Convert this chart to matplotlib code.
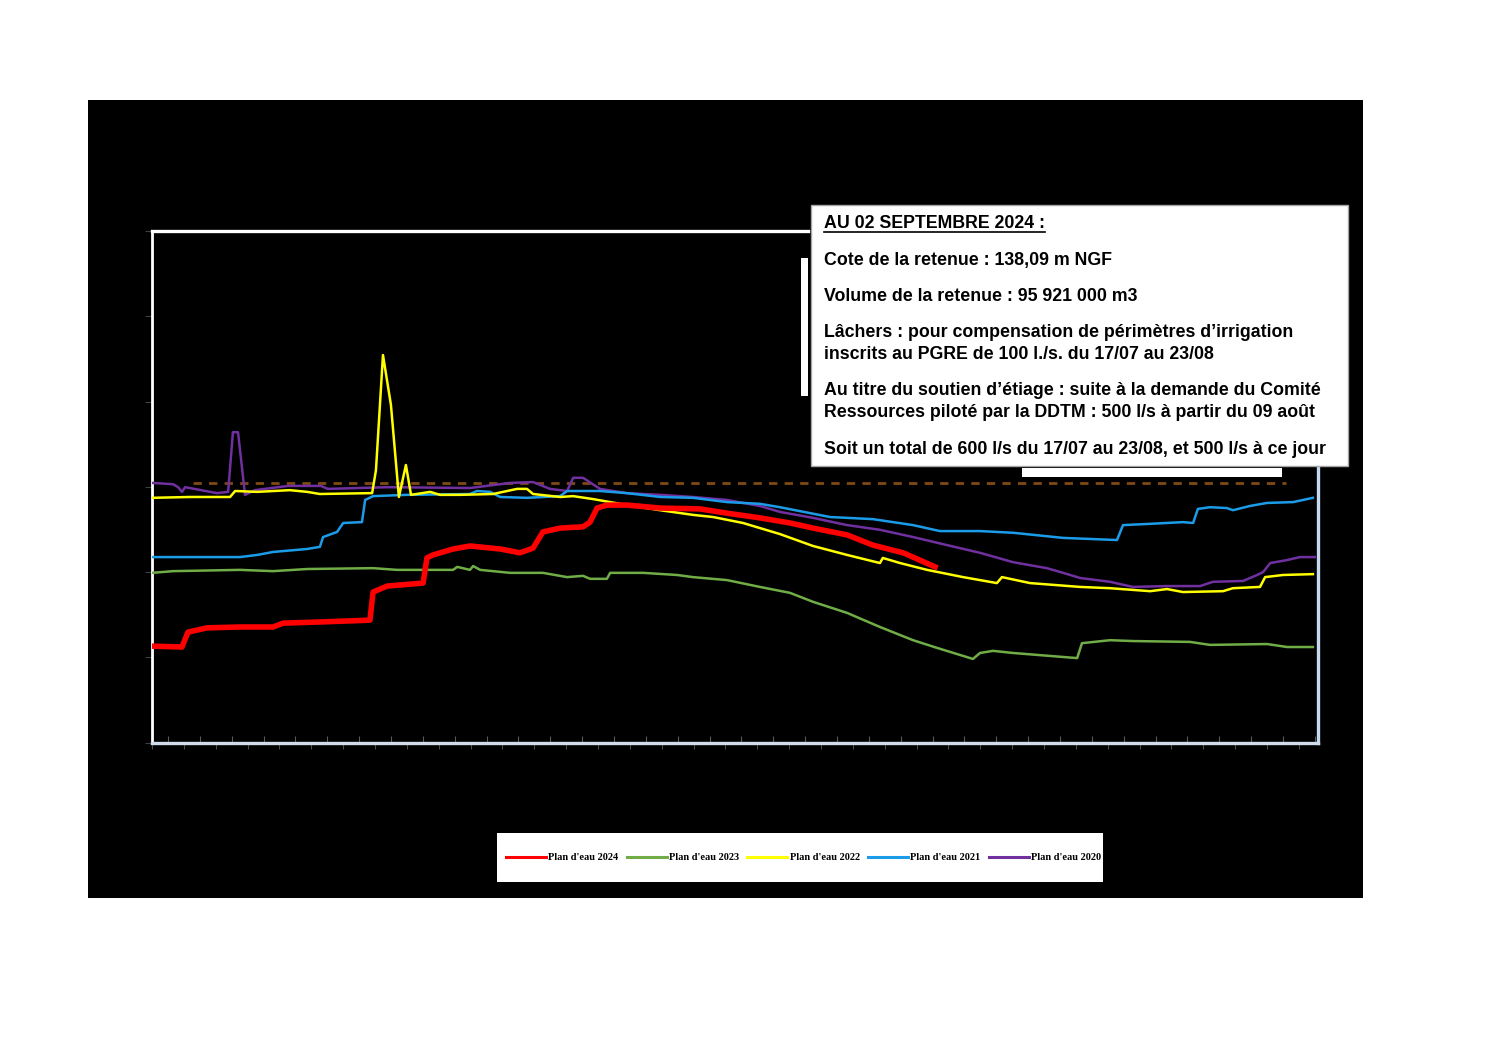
"""Suivi du plan d'eau de la retenue : cote journaliere 2020-2024."""

import matplotlib

matplotlib.use("Agg")

import matplotlib.pyplot as plt  # noqa: E402
from matplotlib.lines import Line2D  # noqa: E402
from matplotlib.patches import Rectangle  # noqa: E402

# ---------------------------------------------------------------------------
# Donnees (jour de l'annee / cote en m NGF)
# ---------------------------------------------------------------------------
DAYS_2024 = [0, 9.4, 11.3, 17.3, 27.6, 38.0, 41.1, 53.7, 68.4, 69.4, 73.8, 85.1,
             86.3, 88.2, 94.5, 99.8, 109.3, 115.5, 119.6, 122.7, 128.1, 135.3,
             137.5, 139.7, 142.8, 149.1, 159.5, 172.0, 180.5, 190.8, 200.3,
             207.5, 218.2, 226.3, 235.8, 245.8]
COTE_2024 = [136.26, 136.24, 136.59, 136.69, 136.71, 136.71, 136.80, 136.83,
             136.87, 137.53, 137.67, 137.74, 138.33, 138.40, 138.54, 138.61,
             138.54, 138.45, 138.56, 138.94, 139.03, 139.06, 139.17, 139.50,
             139.57, 139.57, 139.50, 139.48, 139.38, 139.27, 139.15, 139.03,
             138.87, 138.63, 138.45, 138.12]

DAYS_2023 = [0, 6.6, 27.6, 38.0, 48.7, 69.4, 76.9, 94.5, 95.8, 99.8, 100.8, 103.0,
             112.4, 122.7, 130.3, 135.3, 137.5, 142.8, 143.8, 154.1, 164.8, 169.8,
             180.5, 190.8, 200.3, 207.5, 218.2, 228.5, 238.9, 246.4, 257.7, 259.9,
             264.0, 270.3, 290.4, 291.9, 300.7, 307.9, 325.8, 332.1, 350.0, 356.3,
             364.4]
COTE_2023 = [137.98, 138.02, 138.05, 138.02, 138.07, 138.09, 138.05, 138.05,
             138.12, 138.05, 138.14, 138.05, 137.98, 137.98, 137.88, 137.91,
             137.84, 137.84, 137.98, 137.98, 137.93, 137.88, 137.81, 137.65,
             137.51, 137.30, 137.04, 136.71, 136.40, 136.22, 135.96, 136.10,
             136.15, 136.10, 135.98, 136.33, 136.40, 136.38, 136.36, 136.29,
             136.31, 136.24, 136.24]

DAYS_2022 = [0, 11.9, 24.5, 26.1, 33.0, 43.3, 48.7, 52.7, 68.4, 69.1, 70.3, 72.5,
             75.0, 77.5, 79.7, 81.3, 87.3, 90.4, 96.7, 107.1, 110.2, 114.6, 117.7,
             119.6, 128.1, 132.2, 138.5, 149.1, 159.5, 169.8, 176.1, 185.5, 197.1,
             207.5, 218.2, 228.5, 229.4, 234.8, 243.3, 254.6, 265.2, 266.8, 275.6,
             291.3, 300.7, 313.3, 318.6, 323.6, 336.2, 339.3, 347.8, 349.4, 355.0,
             364.4]
COTE_2022 = [139.74, 139.76, 139.76, 139.90, 139.88, 139.92, 139.88, 139.83,
             139.85, 139.85, 140.39, 143.09, 141.92, 139.76, 140.51, 139.81,
             139.88, 139.81, 139.81, 139.83, 139.88, 139.95, 139.95, 139.83,
             139.76, 139.78, 139.71, 139.57, 139.45, 139.34, 139.29, 139.15,
             138.89, 138.61, 138.40, 138.21, 138.33, 138.21, 138.05, 137.88,
             137.74, 137.88, 137.74, 137.65, 137.62, 137.55, 137.60, 137.53,
             137.55, 137.62, 137.65, 137.88, 137.93, 137.95]

DAYS_2021 = [0, 11.9, 27.6, 33.0, 38.0, 48.7, 52.7, 53.7, 58.1, 60.0, 65.9, 66.9,
             69.4, 80.0, 99.8, 102.0, 106.1, 109.3, 117.7, 128.1, 130.3, 140.6,
             149.1, 159.5, 169.8, 180.5, 190.8, 197.1, 212.8, 226.3, 238.9, 247.3,
             259.9, 270.3, 286.0, 302.9, 304.8, 313.3, 323.6, 326.8, 328.3, 332.1,
             337.4, 339.3, 344.7, 350.0, 358.2, 364.4]
COTE_2021 = [138.35, 138.35, 138.35, 138.40, 138.47, 138.54, 138.59, 138.82,
             138.94, 139.15, 139.17, 139.69, 139.78, 139.81, 139.83, 139.90,
             139.88, 139.76, 139.74, 139.78, 139.90, 139.90, 139.85, 139.76,
             139.74, 139.64, 139.60, 139.52, 139.29, 139.24, 139.10, 138.96,
             138.96, 138.92, 138.80, 138.75, 139.10, 139.13, 139.17, 139.15,
             139.48, 139.52, 139.50, 139.45, 139.55, 139.62, 139.64, 139.74]

DAYS_2020 = [0, 6.6, 8.2, 9.4, 10.4, 20.4, 23.9, 25.4, 27.0, 29.2, 32.3, 42.7,
             53.0, 55.2, 74.1, 99.8, 112.4, 119.6, 124.9, 130.3, 132.2, 135.3,
             140.6, 149.1, 159.5, 169.8, 180.5, 190.8, 197.1, 207.5, 218.2, 228.5,
             238.9, 249.6, 259.9, 270.3, 280.9, 286.0, 291.3, 300.7, 307.9, 318.6,
             329.0, 333.0, 342.5, 346.9, 348.8, 351.0, 356.3, 360.3, 365.0]
COTE_2020 = [140.09, 140.06, 139.99, 139.88, 139.99, 139.85, 139.88, 141.28,
             141.28, 139.81, 139.92, 140.02, 140.02, 139.95, 139.99, 139.97,
             140.09, 140.11, 139.95, 139.90, 140.21, 140.21, 139.95, 139.85,
             139.81, 139.76, 139.69, 139.55, 139.41, 139.27, 139.10, 138.99,
             138.82, 138.63, 138.45, 138.23, 138.09, 137.98, 137.86, 137.77,
             137.65, 137.67, 137.67, 137.77, 137.79, 137.93, 138.00, 138.21,
             138.28, 138.35, 138.35]

COTE_REFERENCE = 140.09
REFERENCE_START_DAY = 13
REFERENCE_END_DAY = 356

SERIES = [
    ("Plan d'eau 2024", DAYS_2024, COTE_2024, "#ff0000"),
    ("Plan d'eau 2023", DAYS_2023, COTE_2023, "#70ad47"),
    ("Plan d'eau 2022", DAYS_2022, COTE_2022, "#ffff00"),
    ("Plan d'eau 2021", DAYS_2021, COTE_2021, "#1b9ce8"),
    ("Plan d'eau 2020", DAYS_2020, COTE_2020, "#7030a0"),
]

INFO_TITLE = "AU 02 SEPTEMBRE 2024 :"
INFO_LINES = [
    "Cote de la retenue : 138,09 m NGF",
    "Volume de la retenue : 95 921 000 m3",
    "Lâchers : pour compensation de périmètres d\u2019irrigation",
    "inscrits au PGRE de 100 l./s. du 17/07 au 23/08",
    "Au titre du soutien d\u2019étiage : suite à la demande du Comité",
    "Ressources piloté par la DDTM : 500 l/s à partir du 09 août",
    "Soit un total de 600 l/s du 17/07 au 23/08, et 500 l/s à ce jour",
]

Y_TICKS = [134, 136, 138, 140, 142, 144, 146]

# ---------------------------------------------------------------------------
# Mise en page (pixels de l'image finale)
# ---------------------------------------------------------------------------
FIG_W, FIG_H = 1497, 1058
DPI = 100


def px_box(x0, y0, x1, y1):
    """Rectangle en pixels (origine en haut a gauche) -> fraction de figure."""
    return (x0 / FIG_W, 1 - y1 / FIG_H, (x1 - x0) / FIG_W, (y1 - y0) / FIG_H)


def fy(y):
    return 1 - y / FIG_H


def fx(x):
    return x / FIG_W


def add_fig_rect(fig, box, **kwargs):
    fig.add_artist(Rectangle(box[:2], box[2], box[3],
                             transform=fig.transFigure, **kwargs))


def main() -> None:
    fig = plt.figure(figsize=(FIG_W / DPI, FIG_H / DPI), dpi=DPI, facecolor="white")

    # fond noir de la zone graphique
    add_fig_rect(fig, px_box(88, 100, 1363, 898), facecolor="black",
                 edgecolor="none", zorder=0)

    ax = fig.add_axes(px_box(152, 231, 1318, 742.5))
    ax.set_facecolor("none")

    for i, (label, days, cote, color) in enumerate(SERIES):
        lw = 4.0 if i == 0 else 1.8
        ax.plot(days, cote, color=color, lw=lw, label=label,
                zorder=10 - i, solid_joinstyle="round")

    ax.hlines(COTE_REFERENCE, REFERENCE_START_DAY, REFERENCE_END_DAY,
              colors="#7f4a14", linewidth=2.0, linestyles=(0, (3, 2.6)), zorder=3)

    ax.set_xlim(0, 366)
    ax.set_ylim(134, 146)
    ax.set_yticks(Y_TICKS)
    ax.set_xticks(range(5, 366, 10))
    ax.set_xticks(range(0, 366, 10), minor=True)
    ax.tick_params(axis="x", which="major", direction="in", length=5,
                   color="#5a5a5a", labelbottom=False)
    ax.tick_params(axis="x", which="minor", direction="out", length=4,
                   color="#5a5a5a", labelbottom=False)
    ax.tick_params(axis="y", direction="out", length=5, color="#404040",
                   labelcolor="black", labelsize=8)

    ax.spines["left"].set_color("white")
    ax.spines["left"].set_linewidth(2.0)
    ax.spines["bottom"].set_color("#d0dcea")
    ax.spines["bottom"].set_linewidth(2.4)
    ax.spines["top"].set_color("white")
    ax.spines["top"].set_linewidth(2.4)
    ax.spines["top"].set_bounds(0, 205.9)
    ax.spines["right"].set_color("#c6d9f0")
    ax.spines["right"].set_linewidth(2.4)
    ax.spines["right"].set_bounds(134, 140.44)

    # restes de cadres blancs
    for box in (px_box(801, 258, 808, 396), px_box(1022, 468, 1282, 477)):
        add_fig_rect(fig, box, facecolor="white", edgecolor="none", zorder=2)

    # encadre d'information
    add_fig_rect(fig, px_box(811, 205, 1348, 466), facecolor="white",
                 edgecolor="#a6a6a6", lw=1.0, zorder=4)
    text_kw = dict(family="Liberation Sans", weight="bold", size=12.75,
                   color="black", va="baseline", ha="left", zorder=5)
    title = fig.text(fx(824), fy(228), INFO_TITLE, **text_kw)
    baselines = [265, 301, 337, 359, 395, 417, 454]
    for line, base in zip(INFO_LINES, baselines):
        fig.text(fx(824), fy(base), line, **text_kw)

    renderer = fig.canvas.get_renderer()
    bb = title.get_window_extent(renderer)
    fig.add_artist(Line2D([bb.x0 / FIG_W, bb.x1 / FIG_W], [fy(232), fy(232)],
                          transform=fig.transFigure, color="black", lw=1.2,
                          zorder=5))

    # legende : cadre blanc puis entrees centrees dessus
    add_fig_rect(fig, px_box(497, 833, 1103, 882), facecolor="white",
                 edgecolor="none", zorder=4)
    leg = fig.legend(loc="center", bbox_to_anchor=(fx(803.5), fy(857.5)),
                     ncol=5, borderaxespad=0, borderpad=0, handlelength=3.85,
                     handletextpad=0.2, columnspacing=0.8, frameon=False,
                     prop=dict(family="Liberation Serif", weight="bold", size=7.5))
    leg.set_zorder(6)
    for line in leg.get_lines():
        line.set_linewidth(2.2)

    fig.savefig("out.png", dpi=DPI, facecolor="white")
    plt.close(fig)


if __name__ == "__main__":
    main()
